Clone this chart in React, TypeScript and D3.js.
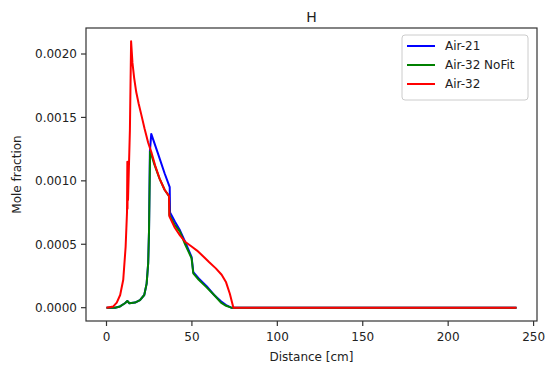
import React from "react";
import * as d3 from "d3";

const xTicks = [0, 50, 100, 150, 200, 250];
const yTicks = [0, 0.0005, 0.001, 0.0015, 0.002];

// Air-21 (blue)
const air21X = [0, 5, 7.9, 10.8, 12.2, 13.4, 16.7, 19.6, 22.1, 23.5, 24.4, 24.9, 25.4, 26.2, 30, 34, 37, 37.2, 40, 43, 46, 49.8, 50.8, 54, 58.6, 63, 67, 70, 73, 80, 240];
const air21Y = [0, 0, 0.00001, 0.000035, 0.000053, 0.000035, 0.00004, 0.00006, 0.0001, 0.00019, 0.00035, 0.00061, 0.00123, 0.00137, 0.00122, 0.00106, 0.00095, 0.00075, 0.00068, 0.00061, 0.00052, 0.0004, 0.00028, 0.00023, 0.00017, 0.0001, 0.00005, 0.00002, 0, 0, 0];

// Air-32 NoFit (green)
const noFitX = [0, 5, 7.9, 10.8, 12.2, 13.4, 16.7, 19.6, 22.1, 23.5, 24.4, 24.9, 25.5, 26.4, 28, 31, 34, 36.6, 36.8, 40, 43, 46, 49.8, 50.8, 54, 58.6, 63, 67, 70, 73, 80, 240];
const noFitY = [0, 0, 0.00001, 0.000035, 0.000053, 0.000035, 0.00004, 0.00006, 0.0001, 0.00019, 0.00035, 0.00061, 0.00123, 0.0012, 0.00113, 0.00102, 0.00093, 0.00088, 0.00073, 0.00065, 0.0006, 0.0005, 0.00039, 0.00027, 0.00022, 0.00016, 0.0001, 0.00004, 0.000015, 0, 0, 0];

// Air-32 (red)
const air32X = [0, 4, 6, 8, 9.8, 11.2, 12.0, 12.2, 12.3, 12.4, 12.6, 13.7, 14.4, 15.2, 16.2, 17.4, 18.8, 20.4, 22.3, 24.4, 26.4, 28.5, 31, 34, 36.6, 36.8, 40, 43, 46, 50, 53, 57, 60, 64, 67.4, 70, 72.2, 73.5, 74.3, 80, 240];
const air32Y = [0, 0.00001, 0.00004, 0.0001, 0.00022, 0.00048, 0.00075, 0.00115, 0.00078, 0.00112, 0.00085, 0.0014, 0.0021, 0.00193, 0.00181, 0.0017, 0.00161, 0.00152, 0.00141, 0.0013, 0.00122, 0.00112, 0.00102, 0.00093, 0.00088, 0.00072, 0.00063, 0.00057, 0.00052, 0.00048, 0.00045, 0.0004, 0.00036, 0.00031, 0.00026, 0.0002, 0.00011, 0.00004, 0, 0, 0];

const seriesNames = ["Air-21", "Air-32 NoFit", "Air-32"];
const seriesColors = ["#0000ff", "#008000", "#ff0000"];

const W = 550, H = 372;
const L = 86, R = 537, T = 28, B = 321;

export default function App() {
  const x = d3.scaleLinear().domain([-12, 252]).range([L, R]);
  const y = d3.scaleLinear().domain([-0.000105, 0.002205]).range([B, T]);
  const line = d3.line<[number, number]>().x(d => x(d[0])).y(d => y(d[1]));
  const series = [
    d3.zip(air21X, air21Y) as [number, number][],
    d3.zip(noFitX, noFitY) as [number, number][],
    d3.zip(air32X, air32Y) as [number, number][],
  ];
  const font = "DejaVu Sans, sans-serif";
  const legendRows = [46, 65, 84];
  return (
    <svg width={W} height={H} style={{ position: "absolute", left: 0, top: 0, background: "#fff" }} fontFamily={font}>
      <rect x={0} y={0} width={W} height={H} fill="#fff" />
      <defs>
        <clipPath id="plot">
          <rect x={L} y={T} width={R - L} height={B - T} />
        </clipPath>
      </defs>
      <g clipPath="url(#plot)">
        {series.map((s, i) => (
          <path key={i} d={line(s) || ""} fill="none" stroke={seriesColors[i]} strokeWidth={2} strokeLinejoin="round" />
        ))}
      </g>
      <rect x={L} y={T} width={R - L} height={B - T} fill="none" stroke="#333" strokeWidth={1.2} />
      {xTicks.map(t => (
        <g key={t}>
          <line x1={x(t)} x2={x(t)} y1={B} y2={B + 5} stroke="#333" strokeWidth={1.2} />
          <text x={x(t)} y={B + 20} fontSize={12} textAnchor="middle" fill="#222">{t}</text>
        </g>
      ))}
      {yTicks.map(t => (
        <g key={t}>
          <line x1={L - 5} x2={L} y1={y(t)} y2={y(t)} stroke="#333" strokeWidth={1.2} />
          <text x={L - 9} y={y(t) + 4.3} fontSize={12} textAnchor="end" fill="#222">{t.toFixed(4)}</text>
        </g>
      ))}
      <text x={(L + R) / 2} y={361} fontSize={12} textAnchor="middle" fill="#222">Distance [cm]</text>
      <text transform={`translate(21,${(T + B) / 2}) rotate(-90)`} fontSize={12} textAnchor="middle" fill="#222">Mole fraction</text>
      <text x={(L + R) / 2} y={22} fontSize={14} textAnchor="middle" fill="#222">H</text>
      <rect x={402} y={35} width={126} height={65} rx={3} fill="#fff" fillOpacity={0.8} stroke="#ccc" strokeWidth={1} />
      {seriesNames.map((n, i) => (
        <g key={n}>
          <line x1={407} x2={435} y1={legendRows[i]} y2={legendRows[i]} stroke={seriesColors[i]} strokeWidth={2} />
          <text x={445} y={legendRows[i] + 4.3} fontSize={12} fill="#222">{n}</text>
        </g>
      ))}
    </svg>
  );
}
